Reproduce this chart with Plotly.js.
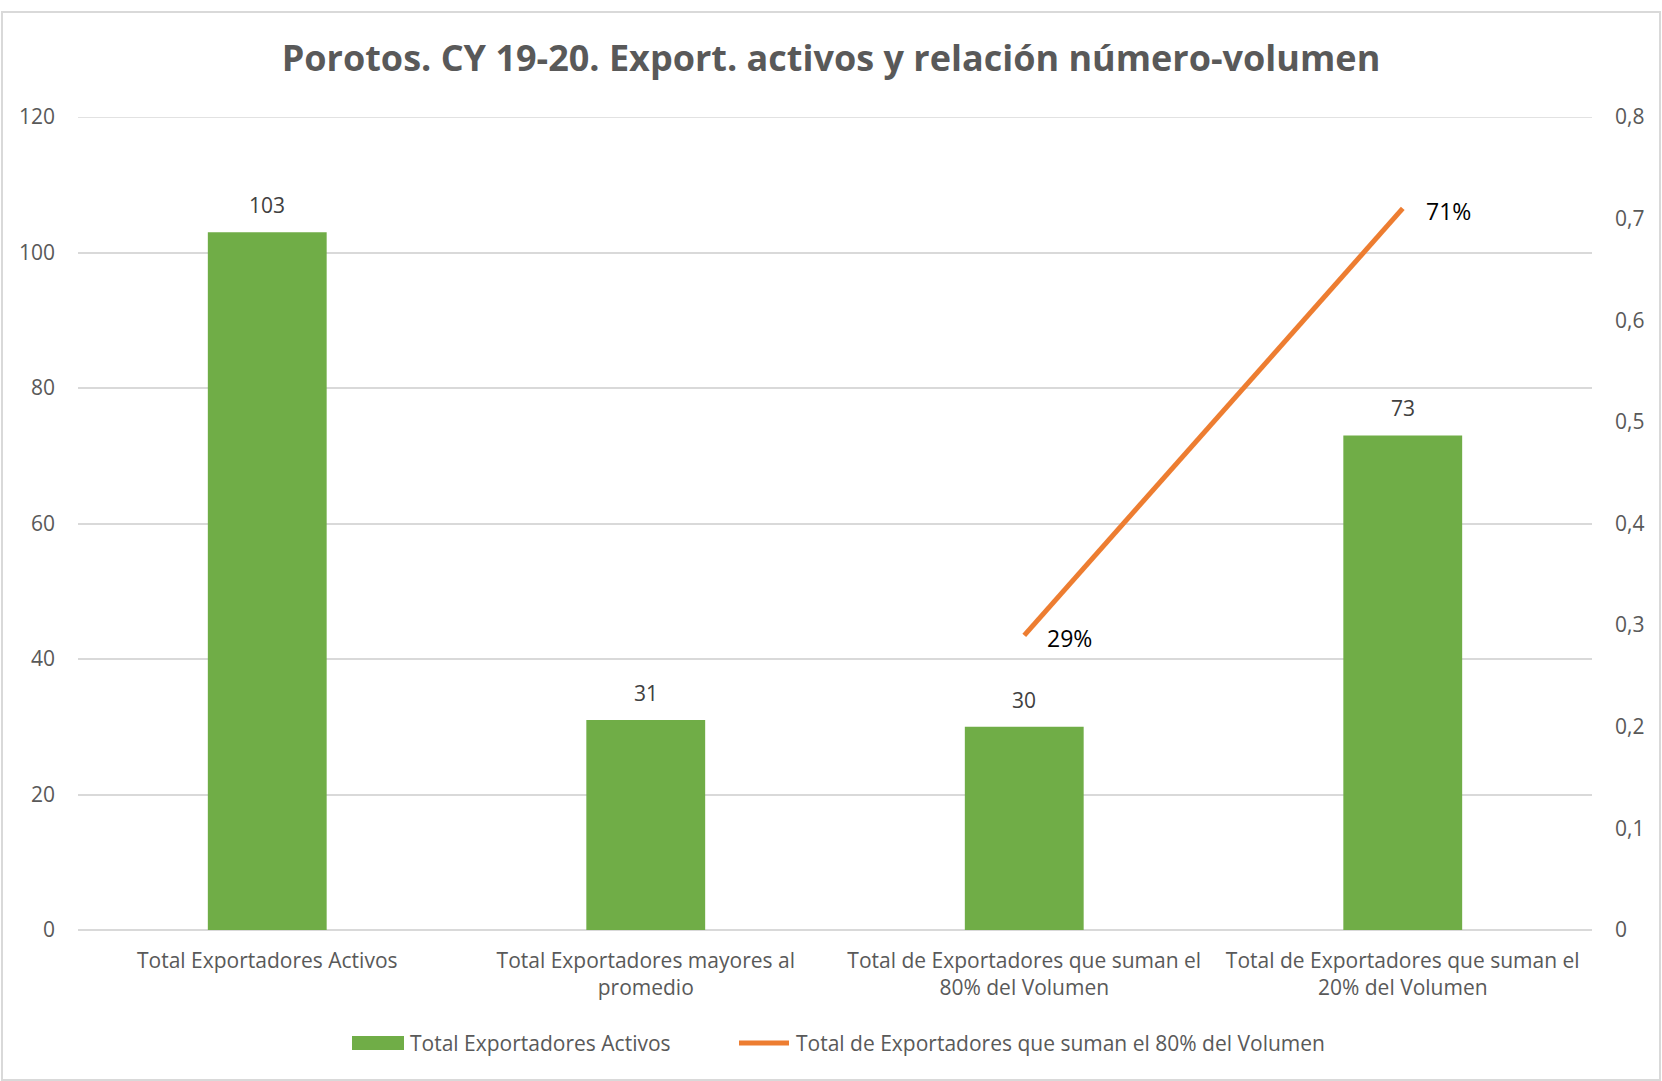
<!DOCTYPE html>
<html>
<head>
<meta charset="utf-8">
<script src="https://cdn.plot.ly/plotly-3.0.1.min.js"></script>
<style>
  html, body { margin: 0; padding: 0; background: #ffffff; }
  #wrap { position: relative; width: 1662px; height: 1081px; }
  #chart { position: absolute; left: 0; top: 0; width: 1662px; height: 1081px; }
  #frame { position: absolute; left: 1px; top: 11px; width: 1656px; height: 1066px; border: 2px solid #d9d9d9; pointer-events: none; }
</style>
</head>
<body>
<div id="wrap">
  <div id="chart"></div>
  <div id="frame"></div>
</div>
<script>
const titleText = "Porotos. CY 19-20. Export. activos y relación número-volumen";
const categories = [
  "Total Exportadores Activos",
  "Total Exportadores mayores al<br>promedio",
  "Total de Exportadores que suman el<br>80% del Volumen",
  "Total de Exportadores que suman el<br>20% del Volumen"
];
const barName = "Total Exportadores Activos";
const barValues = [103, 31, 30, 73];
const lineName = "Total de Exportadores que suman el 80% del Volumen";
const lineCategories = [categories[2], categories[3]];
const lineValues = [0.29, 0.71];
const lineLabels = ["29%", "71%"];
const y1Ticks = [0, 20, 40, 60, 80, 100, 120];
const y2Ticks = [0, 0.1, 0.2, 0.3, 0.4, 0.5, 0.6, 0.7, 0.8];
const y2TickText = ["0", "0,1", "0,2", "0,3", "0,4", "0,5", "0,6", "0,7", "0,8"];

const FONT = "Open Sans, Noto Sans, DejaVu Sans, sans-serif";
const GREY = "#595959";
const GREEN = "#70AD47";
const ORANGE = "#ED7D31";

// plot area in pixels (for the hand-placed legend)
const PL = 78, PR = 1592, PT = 117, PB = 930;
const px2x = p => (p - PL) / (PR - PL);
const px2y = p => (PB - p) / (PB - PT);

const barTrace = {
  type: "bar",
  name: barName,
  x: categories,
  y: barValues,
  marker: { color: GREEN },
  hoverinfo: "x+y",
  showlegend: false
};
const lineTrace = {
  type: "scatter",
  mode: "lines",
  name: lineName,
  x: lineCategories,
  y: lineValues,
  yaxis: "y2",
  line: { color: ORANGE, width: 5 },
  showlegend: false
};

const annotations = [];
barValues.forEach((v, i) => {
  annotations.push({
    x: categories[i], y: v, xref: "x", yref: "y",
    text: String(v), showarrow: false,
    yanchor: "bottom", yshift: 11,
    font: { family: FONT, size: 21, color: "#404040" }
  });
});
lineValues.forEach((v, i) => {
  annotations.push({
    x: lineCategories[i], y: v, xref: "x", yref: "y2",
    text: lineLabels[i], showarrow: false,
    xanchor: "left", xshift: 21, yshift: -3,
    font: { family: FONT, size: 23, color: "#000000" }
  });
});
// legend texts
annotations.push({
  xref: "paper", yref: "paper", x: px2x(408), y: px2y(1043),
  xanchor: "left", yanchor: "middle", showarrow: false,
  text: barName, font: { family: FONT, size: 21, color: GREY }
});
annotations.push({
  xref: "paper", yref: "paper", x: px2x(794), y: px2y(1043),
  xanchor: "left", yanchor: "middle", showarrow: false,
  text: lineName, font: { family: FONT, size: 21, color: GREY }
});

const shapes = [
  // top gridline at 120
  { type: "line", xref: "paper", yref: "y", x0: 0, x1: 1, y0: 120, y1: 120,
    line: { color: "#D9D9D9", width: 1.5 }, layer: "below" },
  // legend symbols
  { type: "rect", xref: "paper", yref: "paper",
    x0: px2x(352), x1: px2x(404), y0: px2y(1050), y1: px2y(1036),
    fillcolor: GREEN, line: { width: 0 } },
  { type: "line", xref: "paper", yref: "paper",
    x0: px2x(739), x1: px2x(789), y0: px2y(1043), y1: px2y(1043),
    line: { color: ORANGE, width: 5 } }
];

const layout = {
  width: 1662,
  height: 1081,
  paper_bgcolor: "rgba(0,0,0,0)",
  plot_bgcolor: "#ffffff",
  margin: { l: PL, r: 1662 - PR, t: PT, b: 1081 - PB },
  title: {
    text: "<b>" + titleText + "</b>",
    x: 0.5, xanchor: "center",
    y: 1 - 58 / 1081, yanchor: "middle",
    font: { family: FONT, size: 36, color: GREY }
  },
  bargap: 0.686,
  xaxis: {
    type: "category",
    showgrid: false,
    showline: false,
    zeroline: false,
    ticks: "",
    ticklabelstandoff: 16,
    tickfont: { family: FONT, size: 21, color: GREY },
    automargin: false
  },
  yaxis: {
    range: [0, 120],
    tickvals: y1Ticks,
    ticktext: y1Ticks.map(String),
    showgrid: true,
    gridcolor: "#D9D9D9",
    gridwidth: 1.5,
    zeroline: true,
    zerolinecolor: "#D9D9D9",
    zerolinewidth: 1.5,
    showline: false,
    ticks: "",
    ticklabelstandoff: 22,
    tickfont: { family: FONT, size: 21, color: GREY },
    automargin: false
  },
  yaxis2: {
    overlaying: "y",
    side: "right",
    range: [0, 0.8],
    tickvals: y2Ticks,
    ticktext: y2TickText,
    showgrid: false,
    zeroline: false,
    showline: false,
    ticks: "",
    ticklabelstandoff: 22,
    tickfont: { family: FONT, size: 21, color: GREY },
    automargin: false
  },
  annotations: annotations,
  shapes: shapes,
  showlegend: false
};

Plotly.newPlot("chart", [barTrace, lineTrace], layout, { displayModeBar: false, responsive: false });
</script>
</body>
</html>
